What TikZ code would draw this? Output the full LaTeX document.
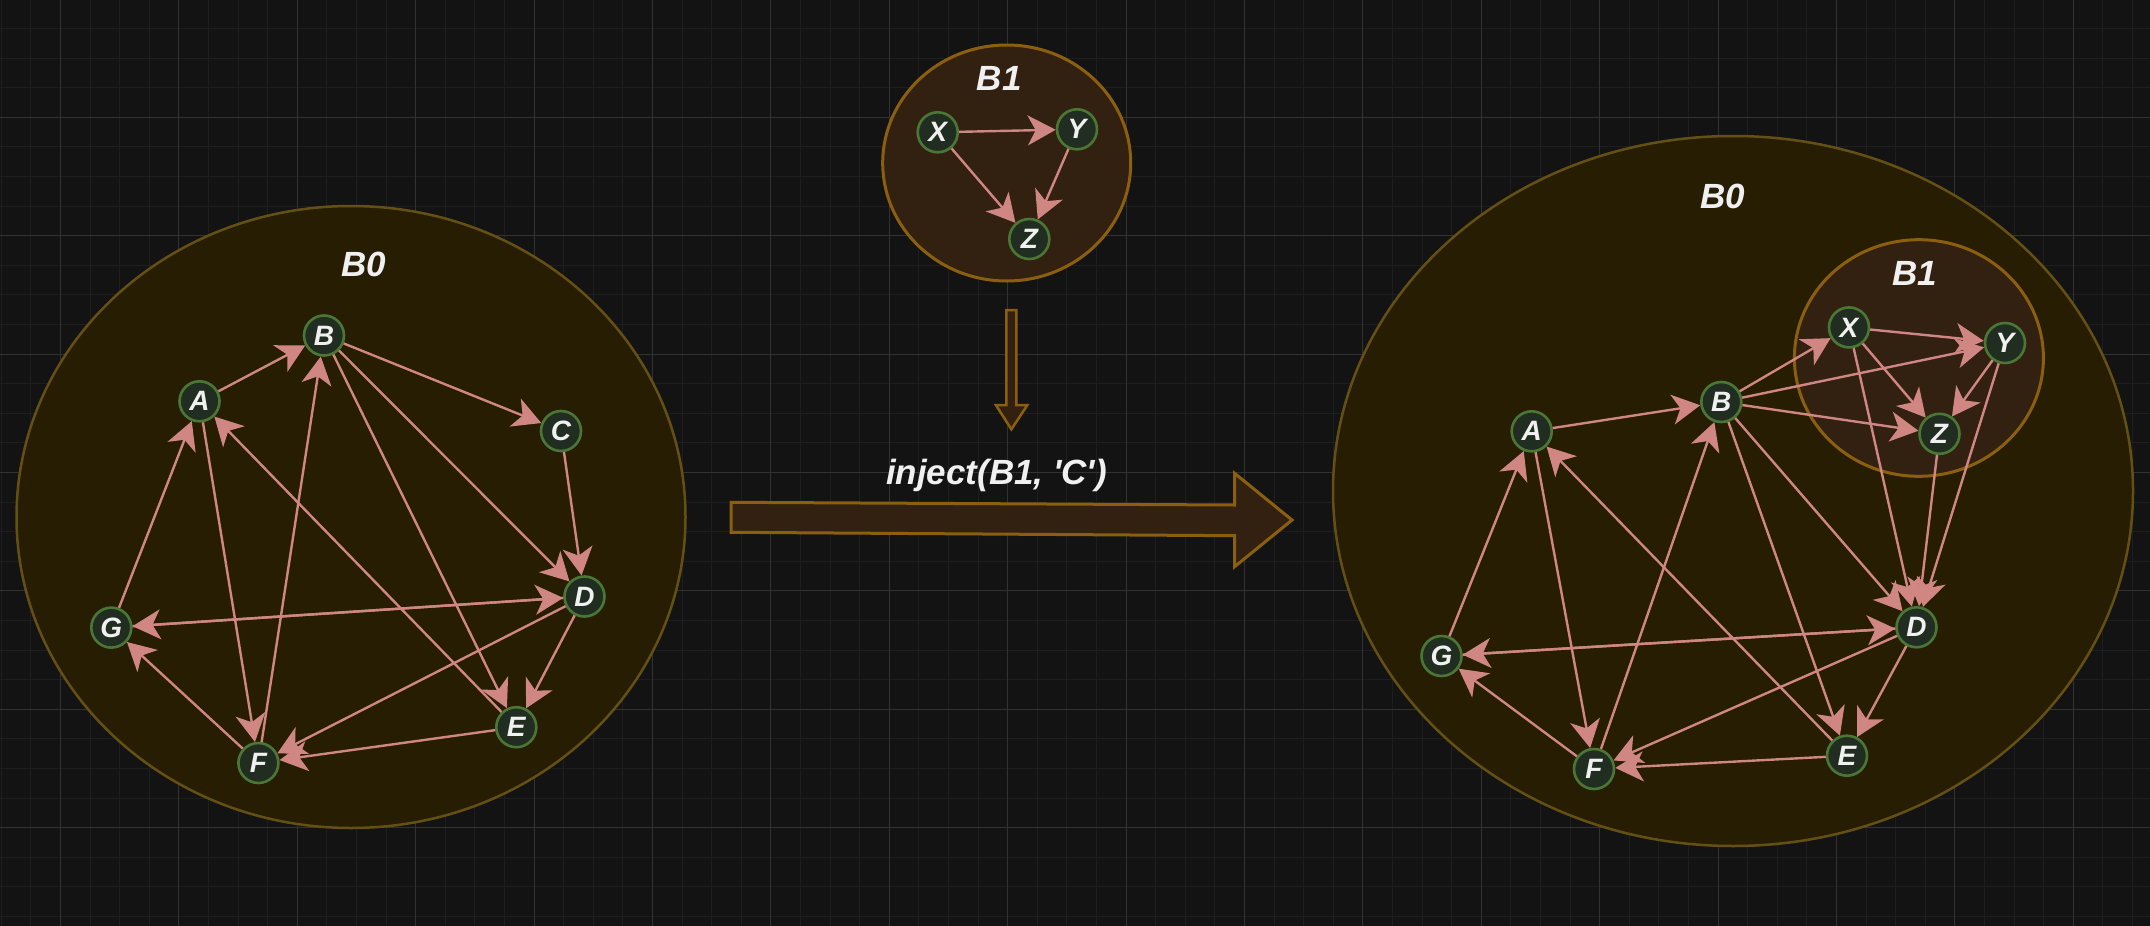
\documentclass[tikz,border=0pt]{standalone}
\usepackage{fontspec}
\setmainfont{Liberation Sans}[Ligatures=TeXOff]
\usetikzlibrary{arrows.meta}
\definecolor{bgc}{HTML}{131313}
\definecolor{gridminor}{HTML}{1E1E1E}
\definecolor{gridmajor}{HTML}{323232}
\definecolor{bzfill}{HTML}{261D03}
\definecolor{bzline}{HTML}{655014}
\definecolor{bofill}{HTML}{322111}
\definecolor{boline}{HTML}{8C5F0F}
\definecolor{nfill}{HTML}{212D21}
\definecolor{nline}{HTML}{4B7734}
\definecolor{edgec}{HTML}{D08682}
\definecolor{txtc}{HTML}{F0F0F0}
\begin{document}
\begin{tikzpicture}[x=1pt,y=-1pt,
  vert/.style={circle,draw=nline,fill=nfill,line width=2.6pt,minimum size=40pt,inner sep=0pt,text=txtc,font=\fontsize{28}{28}\selectfont\bfseries\itshape},
  link/.style={draw=edgec,line width=2.4pt,-{Stealth[length=28pt,width=30pt,inset=8pt]}},
  bzero/.style={draw=bzline,fill=bzfill,line width=2.5pt},
  bone/.style={draw=boline,fill=bofill,line width=3pt},
  title/.style={text=txtc,font=\fontsize{35}{35}\selectfont\bfseries\itshape,inner sep=0pt},
  blockarrow/.style={draw=boline,fill=bofill,line width=3pt,line join=miter}
]
% background and grid
\fill[bgc] (0,0) rectangle (2150,926);
\useasboundingbox (0,0) rectangle (2150,926);
\foreach \i in {0,...,72} \draw[gridminor,line width=1pt] ({1.3+\i*29.6},0) -- ({1.3+\i*29.6},926);
\foreach \j in {0,...,30} \draw[gridminor,line width=1pt] (0,{28.5+\j*29.6}) -- (2150,{28.5+\j*29.6});
\foreach \i in {0,...,17} \draw[gridmajor,line width=1pt] ({60.5+\i*118.4},0) -- ({60.5+\i*118.4},926);
\foreach \j in {0,...,6} \draw[gridmajor,line width=1pt] (0,{117.3+\j*118.4}) -- (2150,{117.3+\j*118.4});

% ---------- left B0 ----------
\draw[bzero] (351,517) ellipse [x radius=334.5pt, y radius=311pt];
\node[title] (lB0) at (363.5,264.6) {B0};
\node[vert] (lA) at (199.5,401.3) {A};
\node[vert] (lB) at (324,335.5) {B};
\node[vert] (lC) at (561,431) {C};
\node[vert] (lD) at (584.5,596.5) {D};
\node[vert] (lG) at (111.3,627.6) {G};
\node[vert] (lE) at (516.3,727.2) {E};
\node[vert] (lF) at (258.4,763) {F};
\draw[link] (lA) -- (lB);
\draw[link] (lB) -- (lC);
\draw[link] (lC) -- (lD);
\draw[link] (lB) -- (lD);
\draw[link] (lB) -- (lE);
\draw[link] (lD) -- (lE);
\draw[link] (lD) -- (lF);
\draw[link] (lE) -- (lF);
\draw[link] (lE) -- (lA);
\draw[link] (lF) -- (lB);
\draw[link] (lA) -- (lF);
\draw[link] (lG) -- (lA);
\draw[link] (lD) -- (lG);
\draw[link] (lG) -- (lD);
\draw[link] (lF) -- (lG);

% ---------- top B1 ----------
\draw[bone] (1006.7,163) ellipse [x radius=124pt, y radius=118pt];
\node[title] (tB1) at (999.3,78.3) {B1};
\node[vert] (tX) at (937.7,132.3) {X};
\node[vert] (tY) at (1077,129.3) {Y};
\node[vert] (tZ) at (1029.3,239) {Z};
\draw[link] (tX) -- (tY);
\draw[link] (tX) -- (tZ);
\draw[link] (tY) -- (tZ);

% ---------- arrows ----------
\draw[blockarrow,line width=2.5pt] (1006.4,310) -- (1016.4,310) -- (1016.4,405) -- (1027.4,405) -- (1011.4,429.3) -- (995.8,405) -- (1006.4,405) -- cycle;
\draw[blockarrow] (731,502.3) -- (1234.6,505) -- (1234.6,473.3) -- (1292,520) -- (1234.6,566.7) -- (1234.6,535.7) -- (731,532.3) -- cycle;
\node[title] (inj) at (996.5,475.5) {inject(B1, 'C')};

% ---------- right B0 ----------
\draw[bzero] (1733,491) ellipse [x radius=400pt, y radius=355pt];
\node[title] (rB0) at (1722.7,196.5) {B0};
\draw[bone] (1918.9,358) ellipse [x radius=124.5pt, y radius=118.3pt];
\node[title] (rB1) at (1914.7,273) {B1};
\node[vert] (rX) at (1849,327.4) {X};
\node[vert] (rY) at (2005,343) {Y};
\node[vert] (rZ) at (1939.5,433.8) {Z};
\node[vert] (rB) at (1721.3,402) {B};
\node[vert] (rA) at (1531.7,431.3) {A};
\node[vert] (rD) at (1916.5,627.3) {D};
\node[vert] (rG) at (1441.5,656) {G};
\node[vert] (rE) at (1847,755.7) {E};
\node[vert] (rF) at (1594,769) {F};
\draw[link] (rA) -- (rB);
\draw[link] (rB) -- (rX);
\draw[link] (rB) -- (rY);
\draw[link] (rB) -- (rZ);
\draw[link] (rX) -- (rY);
\draw[link] (rX) -- (rZ);
\draw[link] (rY) -- (rZ);
\draw[link] (rX) -- (rD);
\draw[link] (rY) -- (rD);
\draw[link] (rZ) -- (rD);
\draw[link] (rB) -- (rD);
\draw[link] (rB) -- (rE);
\draw[link] (rD) -- (rE);
\draw[link] (rD) -- (rF);
\draw[link] (rE) -- (rF);
\draw[link] (rE) -- (rA);
\draw[link] (rF) -- (rB);
\draw[link] (rA) -- (rF);
\draw[link] (rG) -- (rA);
\draw[link] (rD) -- (rG);
\draw[link] (rG) -- (rD);
\draw[link] (rF) -- (rG);
\end{tikzpicture}
\end{document}
